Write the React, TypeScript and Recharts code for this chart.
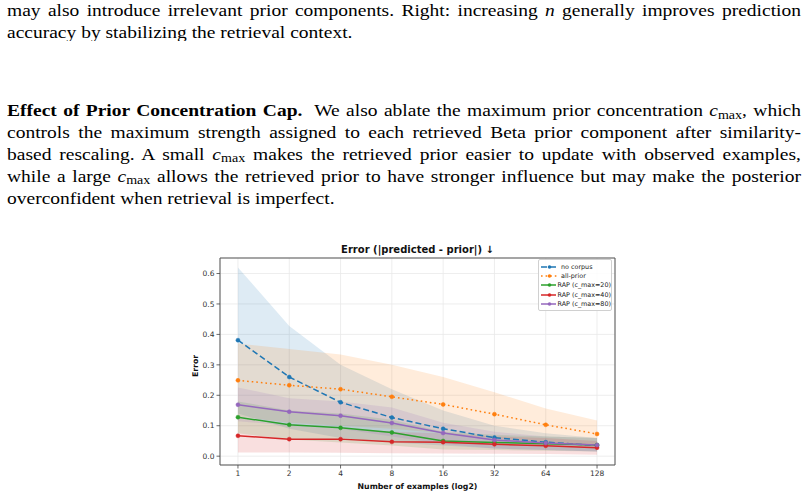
import React from "react";
import {
  ComposedChart,
  Line,
  Area,
  XAxis,
  YAxis,
  CartesianGrid,
  ReferenceArea,
} from "recharts";

// Number of in-context examples (plotted on a log2 axis)
const examples = [1, 2, 4, 8, 16, 32, 64, 128];
const yTicks = [0, 0.1, 0.2, 0.3, 0.4, 0.5, 0.6];

// Mean absolute error per method
const noCorpusMean = [0.381, 0.26, 0.177, 0.127, 0.09, 0.061, 0.046, 0.035];
const allPriorMean = [0.249, 0.233, 0.22, 0.195, 0.17, 0.138, 0.103, 0.073];
const rap20Mean = [0.128, 0.103, 0.093, 0.078, 0.05, 0.045, 0.041, 0.037];
const rap40Mean = [0.067, 0.056, 0.056, 0.047, 0.046, 0.039, 0.034, 0.028];
const rap80Mean = [0.169, 0.146, 0.133, 0.109, 0.076, 0.053, 0.043, 0.037];

// Spread bands (lower / upper)
const noCorpusLow = [0.14, 0.09, 0.06, 0.045, 0.035, 0.025, 0.02, 0.015];
const noCorpusHigh = [0.62, 0.428, 0.3, 0.22, 0.15, 0.1, 0.075, 0.06];
const allPriorLow = [0.13, 0.11, 0.1, 0.09, 0.075, 0.06, 0.045, 0.03];
const allPriorHigh = [0.37, 0.352, 0.334, 0.3, 0.26, 0.21, 0.157, 0.117];
const rap20Low = [0.075, 0.055, 0.045, 0.035, 0.022, 0.02, 0.018, 0.015];
const rap20High = [0.18, 0.15, 0.14, 0.12, 0.08, 0.07, 0.065, 0.06];
const rap40Low = [0.012, 0.012, 0.011, 0.01, 0.009, 0.008, 0.007, 0.005];
const rap40High = [0.125, 0.1, 0.09, 0.08, 0.075, 0.065, 0.06, 0.05];
const rap80Low = [0.115, 0.1, 0.09, 0.065, 0.04, 0.025, 0.02, 0.015];
const rap80High = [0.226, 0.19, 0.18, 0.16, 0.11, 0.08, 0.065, 0.06];

type Series = {
  key: string;
  name: string;
  color: string;
  dash?: string;
  mean: number[];
  low: number[];
  high: number[];
};

const series: Series[] = [
  { key: "noCorpus", name: "no corpus", color: "#1f77b4", dash: "6 3", mean: noCorpusMean, low: noCorpusLow, high: noCorpusHigh },
  { key: "allPrior", name: "all-prior", color: "#ff7f0e", dash: "1.6 3", mean: allPriorMean, low: allPriorLow, high: allPriorHigh },
  { key: "rap20", name: "RAP (c_max=20)", color: "#2ca02c", mean: rap20Mean, low: rap20Low, high: rap20High },
  { key: "rap40", name: "RAP (c_max=40)", color: "#d62728", mean: rap40Mean, low: rap40Low, high: rap40High },
  { key: "rap80", name: "RAP (c_max=80)", color: "#9467bd", mean: rap80Mean, low: rap80Low, high: rap80High },
];

const rows = examples.map((n, i) => {
  const row: Record<string, number | number[]> = { lx: Math.log2(n) };
  series.forEach((s) => {
    row[s.key] = s.mean[i];
    row[s.key + "Band"] = [s.low[i], s.high[i]];
  });
  return row;
});

const X_DOMAIN: [number, number] = [-0.35, 7.35];
const Y_DOMAIN: [number, number] = [-0.029, 0.651];

const serif = '"Liberation Serif", "Times New Roman", serif';
const sans = '"DejaVu Sans", sans-serif';

const Cmax = () => (
  <span style={{ whiteSpace: "nowrap" }}>
    <i>c</i>
    <span style={{ fontSize: "0.72em", position: "relative", top: "0.22em" }}>max</span>
  </span>
);

// Body text is set wide and squeezed vertically to get the page's narrow-tall look.
const FONT = 19.5;
const SQUEEZE = 0.85;
const LINE = 21.2 / SQUEEZE;

const paraStyle: React.CSSProperties = {
  position: "absolute",
  left: 7,
  width: 794,
  margin: 0,
  fontFamily: serif,
  fontSize: FONT,
  lineHeight: `${LINE}px`,
  color: "#000",
  transform: `scale(1, ${SQUEEZE})`,
  transformOrigin: "0 0",
};

const TextLine = ({ children, last }: { children: React.ReactNode; last?: boolean }) => (
  <div
    style={{
      textAlign: last ? "left" : "justify",
      textAlignLast: last ? "left" : "justify",
      whiteSpace: "nowrap",
    }}
  >
    {children}
  </div>
);

const LegendBox = () => (
  <div
    style={{
      position: "absolute",
      left: 538,
      top: 259,
      width: 74,
      height: 52,
      boxSizing: "border-box",
      border: "1px solid #d0d0d0",
      borderRadius: 2,
      background: "rgba(255,255,255,0.85)",
      fontFamily: sans,
      fontSize: 6.4,
      color: "#222",
      paddingTop: 2,
    }}
  >
    {series.map((s) => (
      <div key={s.key} style={{ display: "flex", alignItems: "center", height: 9.4 }}>
        <svg width={20} height={6} style={{ marginLeft: 1, marginRight: 1 }}>
          <line x1={1} y1={3} x2={18} y2={3} stroke={s.color} strokeWidth={1.5} strokeDasharray={s.dash} />
          <circle cx={9.5} cy={3} r={1.8} fill={s.color} />
        </svg>
        <span style={{ whiteSpace: "nowrap" }}>{s.name}</span>
      </div>
    ))}
  </div>
);

export default function App() {
  return (
    <div style={{ position: "absolute", left: 0, top: 0, width: 808, height: 496, background: "#fff", overflow: "hidden" }}>
      <div style={{ ...paraStyle, top: 1.1 }}>
        <TextLine>
          may also introduce irrelevant prior components. Right: increasing <i>n</i> generally improves prediction
        </TextLine>
        <TextLine last>accuracy by stabilizing the retrieval context.</TextLine>
      </div>
      <div style={{ ...paraStyle, top: 100.5 }}>
        <TextLine>
          <b style={{ marginRight: "0.3em" }}>Effect of Prior Concentration Cap.</b> We also ablate the maximum prior
          concentration <Cmax />, which
        </TextLine>
        <TextLine>
          controls the maximum strength assigned to each retrieved Beta prior component after similarity-
        </TextLine>
        <TextLine>
          based rescaling. A small <Cmax /> makes the retrieved prior easier to update with observed examples,
        </TextLine>
        <TextLine>
          while a large <Cmax /> allows the retrieved prior to have stronger influence but may make the posterior
        </TextLine>
        <TextLine last>overconfident when retrieval is imperfect.</TextLine>
      </div>

      <div
        style={{
          position: "absolute",
          left: 220,
          top: 244,
          width: 395,
          textAlign: "center",
          fontFamily: sans,
          fontWeight: "bold",
          fontSize: 10,
          color: "#111",
        }}
      >
        Error (|predicted - prior|) ↓
      </div>
      <div
        style={{
          position: "absolute",
          left: 195,
          top: 366,
          transform: "translate(-50%, -50%) rotate(-90deg)",
          fontFamily: sans,
          fontWeight: "bold",
          fontSize: 7.8,
          color: "#111",
          whiteSpace: "nowrap",
        }}
      >
        Error
      </div>

      <div style={{ position: "absolute", left: 0, top: 236 }}>
        <ComposedChart
          width={808}
          height={260}
          data={rows}
          margin={{ top: 22, right: 193, bottom: 0, left: 0 }}
        >
          <CartesianGrid stroke="#e8e8e8" strokeWidth={0.8} />
          <XAxis
            dataKey="lx"
            type="number"
            domain={X_DOMAIN}
            allowDataOverflow
            ticks={[0, 1, 2, 3, 4, 5, 6, 7]}
            tickFormatter={(v: number) => String(Math.round(Math.pow(2, v)))}
            height={31}
            tickSize={3.5}
            tickMargin={2}
            axisLine={false}
            tickLine={{ stroke: "#444", strokeWidth: 0.8 }}
            tick={{ fontFamily: sans, fontSize: 7.5, fill: "#333" }}
            label={{
              value: "Number of examples (log2)",
              position: "insideBottom",
              offset: 7,
              fontFamily: sans,
              fontSize: 7.8,
              fontWeight: "bold",
              fill: "#111",
            }}
          />
          <YAxis
            type="number"
            domain={Y_DOMAIN}
            allowDataOverflow
            ticks={yTicks}
            tickFormatter={(v: number) => v.toFixed(1)}
            width={220}
            tickSize={3.5}
            tickMargin={2}
            axisLine={false}
            tickLine={{ stroke: "#444", strokeWidth: 0.8 }}
            tick={{ fontFamily: sans, fontSize: 7.5, fill: "#333" }}
          />
          {series.map((s) => (
            <Area
              key={s.key + "Band"}
              type="linear"
              dataKey={s.key + "Band"}
              stroke="none"
              fill={s.color}
              fillOpacity={0.15}
              isAnimationActive={false}
              activeDot={false}
            />
          ))}
          {series.map((s) => (
            <Line
              key={s.key}
              type="linear"
              dataKey={s.key}
              stroke={s.color}
              strokeWidth={1.5}
              strokeDasharray={s.dash}
              dot={{ r: 2, fill: s.color, stroke: s.color, strokeWidth: 0.5, strokeDasharray: "" }}
              activeDot={false}
              isAnimationActive={false}
            />
          ))}
          <ReferenceArea
            x1={X_DOMAIN[0]}
            x2={X_DOMAIN[1]}
            y1={Y_DOMAIN[0]}
            y2={Y_DOMAIN[1]}
            fill="none"
            stroke="#555"
            strokeWidth={1}
          />
        </ComposedChart>
      </div>
      <LegendBox />
    </div>
  );
}
